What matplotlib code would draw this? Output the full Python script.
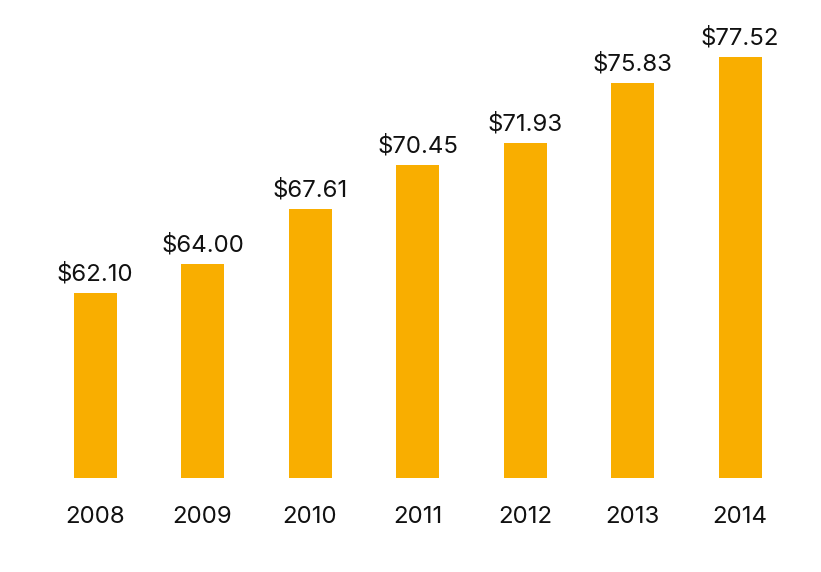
import matplotlib
matplotlib.use("Agg")
import matplotlib.pyplot as plt

years = ["2008", "2009", "2010", "2011", "2012", "2013", "2014"]
values = [62.10, 64.00, 67.61, 70.45, 71.93, 75.83, 77.52]
labels = ["$62.10", "$64.00", "$67.61", "$70.45", "$71.93", "$75.83", "$77.52"]

plt.rcParams['font.family'] = ['Inter', 'DejaVu Sans']

fig = plt.figure(figsize=(8.21, 5.72), dpi=100)
ax = fig.add_axes([0, (572 - 478) / 572, 1, 478 / 572])
base = 50
x = list(range(len(years)))
ax.bar(x, [v - base for v in values], bottom=base, width=0.4, color="#F9AE00")
for xi, v, lab in zip(x, values, labels):
    ax.annotate(lab, (xi, v), xytext=(0, 5.5), textcoords="offset points",
                ha="center", va="bottom", fontsize=17.3, color="#111111")
ax.set_xlim((0 - 95) / 107.5, (821 - 95) / 107.5)
ax.set_ylim(base, base + 478 / 15.285)
ax.set_xticks(x)
ax.set_xticklabels(years, fontsize=17.3, color="#111111")
ax.tick_params(axis="x", length=0, pad=20)
ax.set_yticks([])
for s in ax.spines.values():
    s.set_visible(False)
fig.savefig("out.png", dpi=100)
